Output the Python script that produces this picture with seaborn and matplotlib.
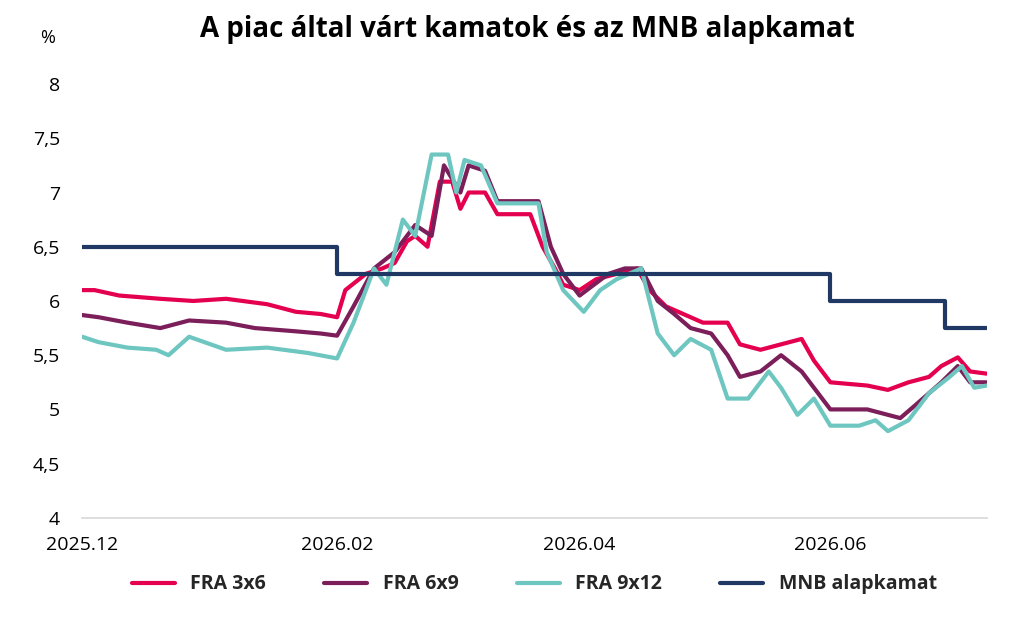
import matplotlib
matplotlib.use("Agg")
import matplotlib.pyplot as plt
import matplotlib.dates as mdates
from matplotlib.ticker import FuncFormatter
import seaborn as sns
import pandas as pd

sns.set_theme(style="white")
plt.rcParams['font.family'] = ['Open Sans', 'DejaVu Sans']

fra36_dates = ["2025-12-01","2025-12-04","2025-12-10","2025-12-20","2025-12-28","2026-01-05","2026-01-15","2026-01-22","2026-01-28","2026-02-01",
               "2026-02-03","2026-02-08","2026-02-12","2026-02-15","2026-02-18","2026-02-20","2026-02-23","2026-02-26","2026-03-01","2026-03-03",
               "2026-03-05","2026-03-09","2026-03-12","2026-03-20","2026-03-23","2026-03-26","2026-03-28","2026-04-01","2026-04-05","2026-04-10",
               "2026-04-15","2026-04-18","2026-04-22","2026-04-28","2026-05-01","2026-05-07","2026-05-10","2026-05-15","2026-05-20","2026-05-25",
               "2026-05-28","2026-06-01","2026-06-10","2026-06-15","2026-06-20","2026-06-25","2026-06-28","2026-07-02","2026-07-05","2026-07-09"]
fra36 = [6.1,6.1,6.05,6.02,6.0,6.02,5.97,5.9,5.88,5.85,
         6.1,6.25,6.3,6.35,6.55,6.6,6.5,7.1,7.1,6.85,
         7.0,7.0,6.8,6.8,6.5,6.3,6.15,6.1,6.2,6.25,
         6.3,6.1,5.95,5.85,5.8,5.8,5.6,5.55,5.6,5.65,
         5.45,5.25,5.22,5.18,5.25,5.3,5.4,5.48,5.35,5.33]

fra69_dates = ["2025-12-01","2025-12-05","2025-12-12","2025-12-20","2025-12-27","2026-01-05","2026-01-12","2026-01-22","2026-01-28","2026-02-01",
               "2026-02-05","2026-02-10","2026-02-15","2026-02-20","2026-02-24","2026-02-27","2026-03-03","2026-03-05","2026-03-09","2026-03-12",
               "2026-03-22","2026-03-25","2026-03-28","2026-04-01","2026-04-08","2026-04-12","2026-04-16","2026-04-20","2026-04-24","2026-04-28",
               "2026-05-03","2026-05-07","2026-05-10","2026-05-15","2026-05-20","2026-05-25","2026-05-28","2026-06-01","2026-06-10","2026-06-15",
               "2026-06-18","2026-06-22","2026-06-28","2026-07-02","2026-07-05","2026-07-09"]
fra69 = [5.87,5.85,5.8,5.75,5.82,5.8,5.75,5.72,5.7,5.68,
         5.95,6.3,6.45,6.7,6.6,7.25,7.0,7.25,7.2,6.92,
         6.92,6.5,6.25,6.05,6.25,6.3,6.3,6.0,5.88,5.75,
         5.7,5.5,5.3,5.35,5.5,5.35,5.2,5.0,5.0,4.95,
         4.92,5.05,5.25,5.4,5.25,5.25]

fra912_dates = ["2025-12-01","2025-12-05","2025-12-12","2025-12-19","2025-12-22","2025-12-27","2026-01-05","2026-01-15","2026-01-25","2026-02-01",
                "2026-02-05","2026-02-10","2026-02-13","2026-02-17","2026-02-20","2026-02-24","2026-02-28","2026-03-02","2026-03-04","2026-03-08",
                "2026-03-12","2026-03-22","2026-03-24","2026-03-28","2026-04-02","2026-04-06","2026-04-10","2026-04-16","2026-04-20","2026-04-24",
                "2026-04-28","2026-05-03","2026-05-07","2026-05-12","2026-05-17","2026-05-20","2026-05-24","2026-05-28","2026-06-01","2026-06-08",
                "2026-06-12","2026-06-15","2026-06-20","2026-06-25","2026-06-30","2026-07-03","2026-07-06","2026-07-09"]
fra912 = [5.67,5.62,5.57,5.55,5.5,5.67,5.55,5.57,5.52,5.47,
          5.8,6.3,6.15,6.75,6.6,7.35,7.35,7.0,7.3,7.25,
          6.9,6.9,6.45,6.1,5.9,6.1,6.2,6.3,5.7,5.5,
          5.65,5.55,5.1,5.1,5.35,5.2,4.95,5.1,4.85,4.85,
          4.9,4.8,4.9,5.15,5.3,5.4,5.2,5.22]

mnb_dates = ["2025-12-01","2026-02-01","2026-06-01","2026-06-29","2026-07-09"]
mnb = [6.5,6.25,6.0,5.75,5.75]

fig = plt.figure(figsize=(10.15, 6.18), dpi=100)
ax = fig.add_axes([0.081, 0.162, 0.891, 0.702])

series = [("FRA 3x6", fra36_dates, fra36, "#E4004F"),
          ("FRA 6x9", fra69_dates, fra69, "#7B1E5A"),
          ("FRA 9x12", fra912_dates, fra912, "#6EC6C0")]
for name, d, v, c in series:
    sns.lineplot(x=pd.to_datetime(d), y=v, ax=ax, color=c, linewidth=3, label=name)
ax.step(pd.to_datetime(mnb_dates), mnb, where="post", color="#1F3864", linewidth=3, label="MNB alapkamat")

ax.set_ylim(4, 8)
ax.set_yticks([4, 4.5, 5, 5.5, 6, 6.5, 7, 7.5, 8])
ax.yaxis.set_major_formatter(FuncFormatter(lambda v, p: f"{v:g}".replace(".", ",")))
ax.set_xlim(pd.Timestamp("2025-12-01"), pd.Timestamp("2026-07-09"))
ax.set_xticks(pd.to_datetime(["2025-12-01", "2026-02-01", "2026-04-01", "2026-06-01"]))
ax.xaxis.set_major_formatter(mdates.DateFormatter("%Y.%m"))
ax.tick_params(axis="x", length=5, color="#D9D9D9", labelsize=14, pad=8, labelcolor="black")
ax.tick_params(axis="y", labelsize=14, length=0, pad=16, labelcolor="black")
for s in ["top", "right", "left"]:
    ax.spines[s].set_visible(False)
ax.spines["bottom"].set_color("#D9D9D9")
ax.set_xlabel("")
ax.set_ylabel("")

fig.text(0.04, 0.93, "%", fontsize=13, color="black")
fig.suptitle("A piac által várt kamatok és az MNB alapkamat", fontsize=20, fontweight="bold",
             y=0.975, x=0.52, color="black")
ax.legend(loc="upper center", bbox_to_anchor=(0.5, -0.09), ncol=4, frameon=False,
          prop={"size": 14, "weight": "bold"}, handlelength=2.2, columnspacing=3.0)

fig.savefig("out.png", dpi=100)
